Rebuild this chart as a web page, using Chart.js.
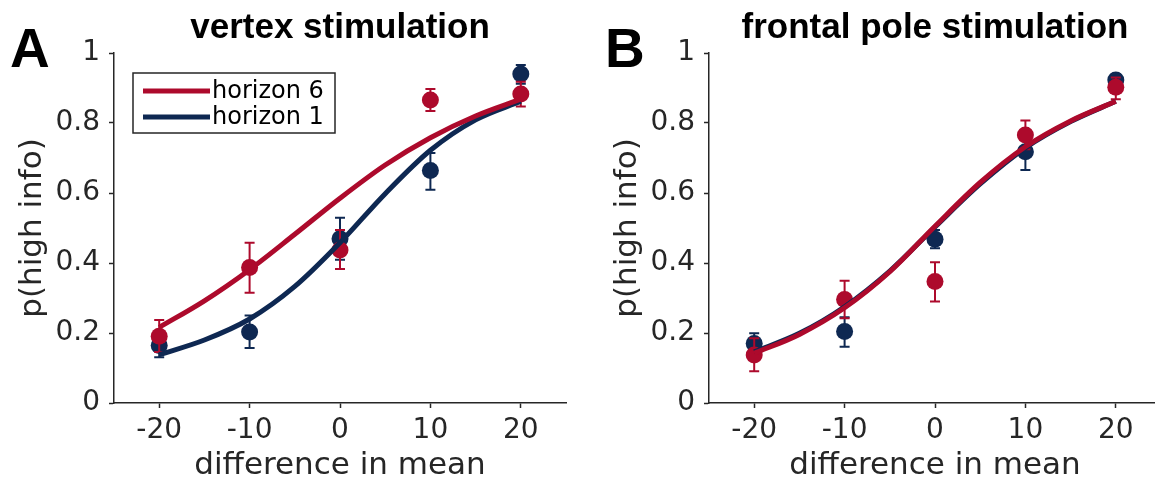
<!DOCTYPE html>
<html>
<head>
<meta charset="utf-8">
<script src="https://cdn.jsdelivr.net/npm/chart.js@4.4.1/dist/chart.umd.min.js"></script>
<style>
  html, body { margin: 0; padding: 0; background: #fff; overflow: hidden; }
  #wrap { position: relative; width: 1155px; height: 483px; overflow: hidden; }
  .panel { position: absolute; top: 0; width: 580px; height: 483px; }
</style>
</head>
<body>
<div id="wrap">
  <div class="panel" style="left:0"><canvas id="vertex" width="580" height="483"></canvas></div>
  <div class="panel" style="left:595px"><canvas id="frontal" width="580" height="483"></canvas></div>
</div>
<script>
// difference in mean (x) for the data points
const diffs = [-20, -10, 0, 10, 20];
const xTicks = [-20, -10, 0, 10, 20];
const yTicks = [0, 0.2, 0.4, 0.6, 0.8, 1];
const yTickLabels = ["0", "0.2", "0.4", "0.6", "0.8", "1"];
const seriesNames = ["horizon 6", "horizon 1"];

// vertex stimulation
const vertexH6 = [0.191, 0.387, 0.437, 0.866, 0.883];
const vertexH6Lo = [0.146, 0.315, 0.383, 0.834, 0.847];
const vertexH6Hi = [0.237, 0.458, 0.494, 0.897, 0.918];
const vertexH1 = [0.164, 0.203, 0.469, 0.664, 0.940];
const vertexH1Lo = [0.131, 0.157, 0.409, 0.609, 0.912];
const vertexH1Hi = [0.197, 0.250, 0.529, 0.714, 0.966];

// frontal pole stimulation
const frontalH6 = [0.137, 0.296, 0.347, 0.766, 0.902];
const frontalH6Lo = [0.091, 0.242, 0.290, 0.725, 0.868];
const frontalH6Hi = [0.185, 0.349, 0.402, 0.807, 0.930];
const frontalH1 = [0.170, 0.204, 0.468, 0.718, 0.923];
const frontalH1Lo = [0.141, 0.161, 0.442, 0.666, 0.905];
const frontalH1Hi = [0.199, 0.245, 0.494, 0.770, 0.940];

// fitted curves
const fitX = [-20, -15, -10, -5, 0, 5, 10, 15, 20];
const vertexFitH6 = [0.216, 0.292, 0.381, 0.482, 0.585, 0.680, 0.758, 0.820, 0.868];
const vertexFitH1 = [0.138, 0.180, 0.240, 0.333, 0.458, 0.598, 0.722, 0.809, 0.862];
const frontalFitH6 = [0.142, 0.196, 0.272, 0.375, 0.505, 0.630, 0.732, 0.806, 0.862];
const frontalFitH1 = [0.146, 0.199, 0.275, 0.377, 0.503, 0.626, 0.729, 0.804, 0.862];

const RED = "#ad0a2c";
const NAVY = "#0e2852";
const AXIS = "#262626";
const FONT = "'DejaVu Sans', sans-serif";
const BOLD = "'Liberation Sans', Arial, sans-serif";

function pts(xs, ys) {
  return xs.map((x, i) => ({ x: x, y: ys[i] }));
}

const errorBars = {
  id: "errorBars",
  beforeDatasetDraw(chart, args) {
    const ds = chart.data.datasets[args.index];
    if (!ds.lo) return;
    const { ctx, scales: { x, y } } = chart;
    ctx.save();
    ctx.strokeStyle = ds.backgroundColor;
    ctx.lineWidth = 2;
    ds.data.forEach((p, i) => {
      const px = x.getPixelForValue(p.x);
      const y1 = y.getPixelForValue(ds.lo[i]);
      const y2 = y.getPixelForValue(ds.hi[i]);
      ctx.beginPath();
      ctx.moveTo(px, y1); ctx.lineTo(px, y2);
      ctx.moveTo(px - 5, y1); ctx.lineTo(px + 5, y1);
      ctx.moveTo(px - 5, y2); ctx.lineTo(px + 5, y2);
      ctx.stroke();
    });
    ctx.restore();
  }
};

const panelText = {
  id: "panelText",
  afterDraw(chart, args, opts) {
    const { ctx, chartArea: a } = chart;
    ctx.save();
    ctx.fillStyle = "#000";
    ctx.textBaseline = "alphabetic";
    ctx.font = "bold 55px " + BOLD;
    ctx.textAlign = "left";
    ctx.fillText(opts.letter, 10, 67);
    ctx.font = "bold 35px " + BOLD;
    ctx.textAlign = "center";
    ctx.fillText(opts.title, (a.left + a.right) / 2, 38);

    ctx.fillStyle = AXIS;
    ctx.font = "31px " + FONT;
    ctx.fillText("difference in mean", (a.left + a.right) / 2, 474);
    ctx.translate(41, (a.top + a.bottom) / 2);
    ctx.rotate(-Math.PI / 2);
    ctx.fillText("p(high info)", 0, 0);
    ctx.restore();

    if (opts.legend) {
      ctx.save();
      ctx.fillStyle = "#fff";
      ctx.fillRect(133, 73, 202, 60);
      ctx.strokeStyle = AXIS;
      ctx.lineWidth = 1.5;
      ctx.strokeRect(133, 73, 202, 60);
      const cols = [RED, NAVY];
      const ys = [91, 117];
      ctx.font = "24px " + FONT;
      ctx.textAlign = "left";
      ctx.textBaseline = "alphabetic";
      seriesNames.forEach((name, i) => {
        ctx.strokeStyle = cols[i];
        ctx.lineWidth = 5;
        ctx.beginPath();
        ctx.moveTo(143, ys[i]); ctx.lineTo(210, ys[i]);
        ctx.stroke();
        ctx.fillStyle = "#000";
        ctx.fillText(name, 212, ys[i] + 7);
      });
      ctx.restore();
    }
  }
};

function makePanel(id, opts) {
  return new Chart(document.getElementById(id), {
    type: "scatter",
    data: {
      datasets: [
        { type: "line", label: seriesNames[0], data: pts(fitX, opts.fitH6), borderColor: RED, borderWidth: 5,
          pointRadius: 0, cubicInterpolationMode: "monotone", fill: false, order: 0 },
        { type: "line", label: seriesNames[1], data: pts(fitX, opts.fitH1), borderColor: NAVY, borderWidth: 5,
          pointRadius: 0, cubicInterpolationMode: "monotone", fill: false, order: 1 },
        { label: seriesNames[0], data: pts(diffs, opts.h6), lo: opts.h6Lo, hi: opts.h6Hi,
          backgroundColor: RED, borderWidth: 0, pointRadius: 8.5, order: 2 },
        { label: seriesNames[1], data: pts(diffs, opts.h1), lo: opts.h1Lo, hi: opts.h1Hi,
          backgroundColor: NAVY, borderWidth: 0, pointRadius: 8.5, order: 3 }
      ]
    },
    options: {
      responsive: false,
      animation: false,
      devicePixelRatio: 1,
      layout: { padding: { top: 53, right: 14, left: 0, bottom: 0 } },
      plugins: {
        legend: { display: false },
        tooltip: { enabled: false },
        panelText: { letter: opts.letter, title: opts.title, legend: opts.legend }
      },
      scales: {
        x: {
          type: "linear", min: -25, max: 25,
          afterBuildTicks: s => { s.ticks = xTicks.map(v => ({ value: v })); },
          afterFit: s => { s.height = 80; },
          ticks: { font: { family: FONT, size: 28 }, color: AXIS, padding: 6, maxRotation: 0, autoSkip: false,
                   callback: v => String(v) },
          grid: { drawOnChartArea: false, drawTicks: true, tickLength: 5, tickWidth: 1.5, tickColor: AXIS },
          border: { display: true, color: AXIS, width: 1.5 }
        },
        y: {
          type: "linear", min: 0, max: 1,
          afterBuildTicks: s => { s.ticks = yTicks.map(v => ({ value: v })); },
          afterFit: s => { s.width = 114; },
          ticks: { font: { family: FONT, size: 28 }, color: AXIS, padding: 9, autoSkip: false,
                   callback: (v, i) => yTickLabels[i] },
          grid: { drawOnChartArea: false, drawTicks: true, tickLength: 5, tickWidth: 1.5, tickColor: AXIS },
          border: { display: true, color: AXIS, width: 1.5 }
        }
      }
    },
    plugins: [errorBars, panelText]
  });
}

makePanel("vertex", {
  letter: "A", title: "vertex stimulation", legend: true,
  h6: vertexH6, h6Lo: vertexH6Lo, h6Hi: vertexH6Hi,
  h1: vertexH1, h1Lo: vertexH1Lo, h1Hi: vertexH1Hi,
  fitH6: vertexFitH6, fitH1: vertexFitH1
});

makePanel("frontal", {
  letter: "B", title: "frontal pole stimulation", legend: false,
  h6: frontalH6, h6Lo: frontalH6Lo, h6Hi: frontalH6Hi,
  h1: frontalH1, h1Lo: frontalH1Lo, h1Hi: frontalH1Hi,
  fitH6: frontalFitH6, fitH1: frontalFitH1
});
</script>
</body>
</html>
